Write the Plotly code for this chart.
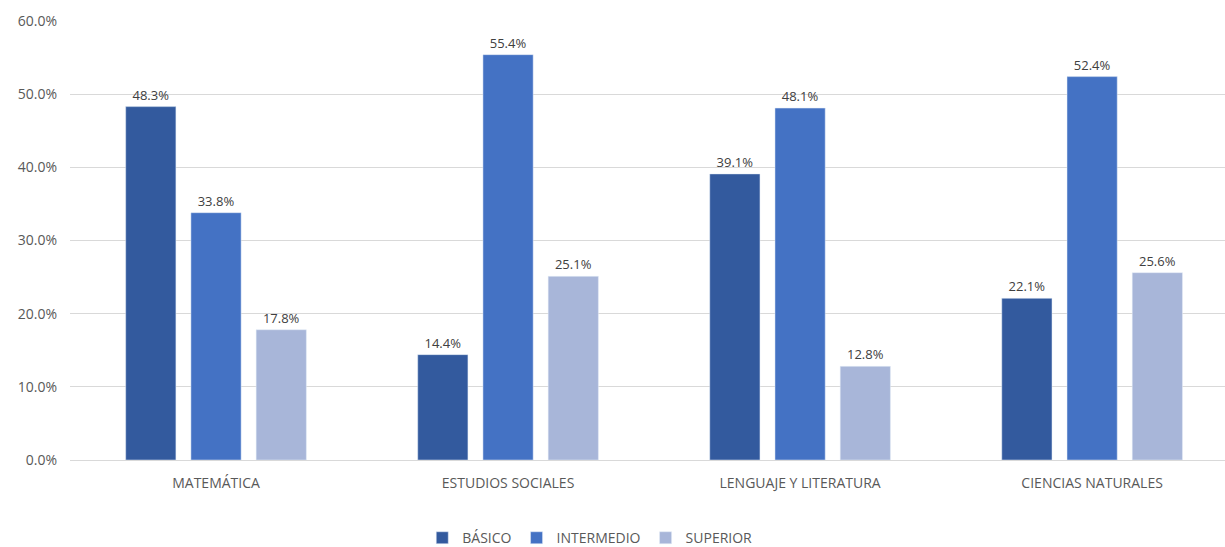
import plotly.graph_objects as go

categories = ["MATEMÁTICA", "ESTUDIOS SOCIALES", "LENGUAJE Y LITERATURA", "CIENCIAS NATURALES"]
basico = [48.3, 14.4, 39.1, 22.1]
intermedio = [33.8, 55.4, 48.1, 52.4]
superior = [17.8, 25.1, 12.8, 25.6]
series = [("BÁSICO", basico, "#335A9E"), ("INTERMEDIO", intermedio, "#4472C4"), ("SUPERIOR", superior, "#A8B6D9")]
tick_vals = [0, 10, 20, 30, 40, 50, 60]
tick_text = ["0.0%", "10.0%", "20.0%", "30.0%", "40.0%", "50.0%", "60.0%"]

fig = go.Figure()
for name, vals, color in series:
    fig.add_trace(go.Bar(
        x=categories, y=vals, name=name, marker_color=color,
        text=[f"{v:.1f}%" for v in vals], textposition="outside",
        textfont=dict(family="Open Sans", size=13, color="#404040"),
        cliponaxis=False,
    ))

fig.update_layout(
    width=1225, height=547,
    margin=dict(l=70, r=0, t=21, b=87, autoexpand=False),
    paper_bgcolor="white", plot_bgcolor="white",
    barmode="group", bargap=0.33, bargroupgap=0.23,
    font=dict(family="Open Sans", color="#595959"),
    xaxis=dict(range=[-0.5, 3.455], showgrid=False, showline=True, linecolor="#D9D9D9",
               tickfont=dict(size=14, color="#595959"), ticks="", ticklabelstandoff=10),
    yaxis=dict(range=[0, 60], tickvals=tick_vals, ticktext=tick_text, showgrid=True,
               gridcolor="#D9D9D9", zeroline=False, tickfont=dict(size=14, color="#595959"),
               ticklabelstandoff=12),
    legend=dict(orientation="h", x=0.45, xanchor="center", y=-0.178, yanchor="middle",
                font=dict(size=14, color="#595959"), traceorder="normal",
                itemwidth=30),
    showlegend=True,
)
fig.write_html("out.html")
